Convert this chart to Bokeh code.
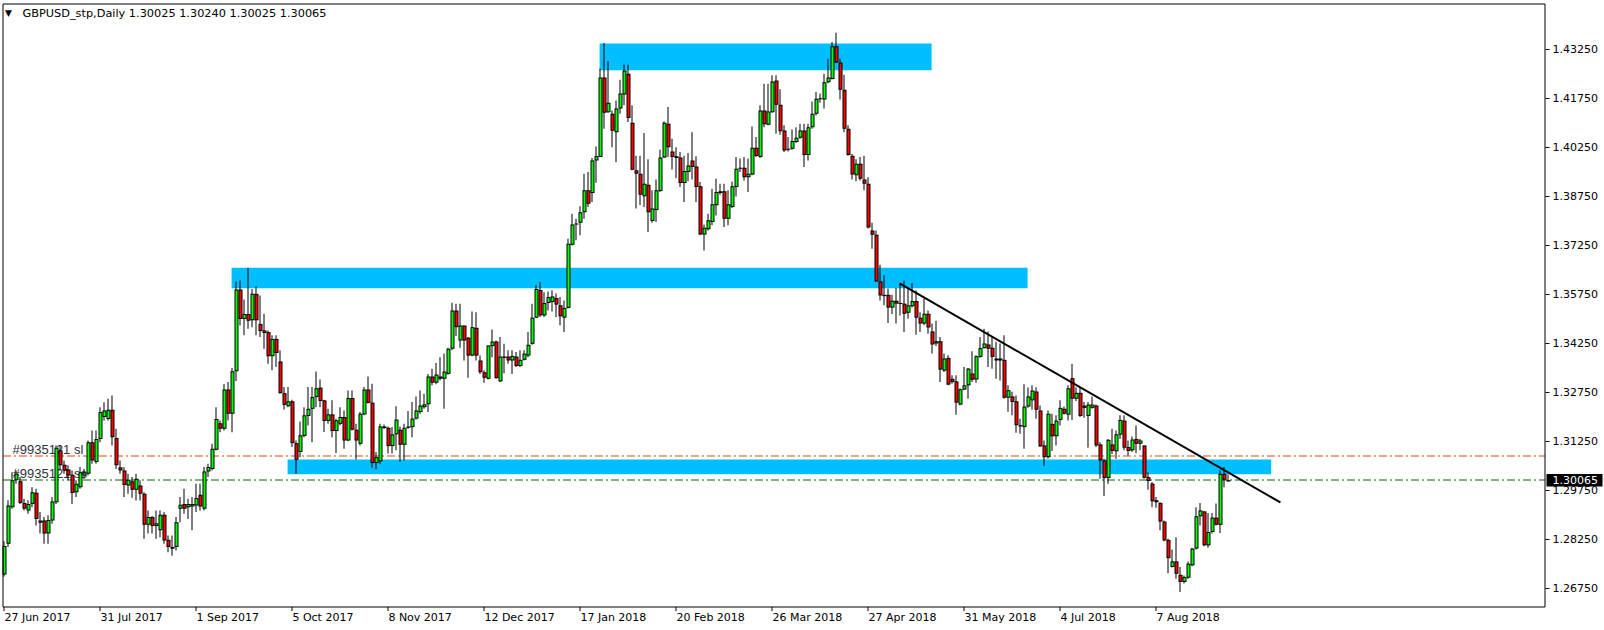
from bokeh.plotting import figure
from bokeh.models import Range1d
from bokeh.core.properties import value
from bokeh.embed import file_html
from bokeh.resources import INLINE

# ---------------- data ----------------
symbol = "GBPUSD_stp"
timeframe = "Daily"

opens = [
    1.2718, 1.2812, 1.2924, 1.3006, 1.3003, 1.2937, 1.2914, 1.2934, 1.2968, 1.2876,
    1.2883, 1.2843, 1.2883, 1.2939, 1.3098, 1.3054, 1.3039, 1.3023, 1.2970, 1.2985,
    1.3021, 1.3026, 1.3123, 1.3062, 1.3133, 1.3200, 1.3194, 1.3222, 1.3136, 1.3046,
    1.3036, 1.2990, 1.3003, 1.2977, 1.2990, 1.2965, 1.2870, 1.2894, 1.2866, 1.2853,
    1.2901, 1.2824, 1.2802, 1.2802, 1.2919, 1.2934, 1.2924, 1.2926, 1.2929, 1.2962,
    1.2919, 1.3033, 1.3041, 1.3100, 1.3181, 1.3164, 1.3284, 1.3210, 1.3340, 1.3590,
    1.3500, 1.3515, 1.3496, 1.3577, 1.3485, 1.3465, 1.3460, 1.3386, 1.3439, 1.3370,
    1.3273, 1.3233, 1.3248, 1.3120, 1.3093, 1.3142, 1.3203, 1.3225, 1.3261, 1.3290,
    1.3251, 1.3188, 1.3208, 1.3157, 1.3179, 1.3200, 1.3128, 1.3258, 1.3161, 1.3118,
    1.3208, 1.3284, 1.3244, 1.3059, 1.3064, 1.3166, 1.3167, 1.3111, 1.3147, 1.3161,
    1.3115, 1.3167, 1.3169, 1.3195, 1.3215, 1.3230, 1.3239, 1.3324, 1.3305, 1.3324,
    1.3317, 1.3332, 1.3409, 1.3526, 1.3434, 1.3480, 1.3443, 1.3388, 1.3473, 1.3373,
    1.3337, 1.3317, 1.3417, 1.3431, 1.3309, 1.3385, 1.3385, 1.3373, 1.3385, 1.3356,
    1.3375, 1.3388, 1.3424, 1.3504, 1.3589, 1.3511, 1.3549, 1.3552, 1.3564, 1.3542,
    1.3504, 1.3534, 1.3727, 1.3789, 1.3795, 1.3827, 1.3894, 1.3886, 1.3985, 1.3996,
    1.4239, 1.4133, 1.4128, 1.4072, 1.4144, 1.4187, 1.4251, 1.4101, 1.3955, 1.3945,
    1.3876, 1.3911, 1.3800, 1.3834, 1.3892, 1.3994, 1.4098, 1.4013, 1.3998, 1.3994,
    1.3916, 1.3950, 1.3985, 1.3967, 1.3906, 1.3759, 1.3775, 1.3797, 1.3848, 1.3886,
    1.3891, 1.3807, 1.3843, 1.3904, 1.3960, 1.3963, 1.3934, 1.3942, 1.4024, 1.3996,
    1.4138, 1.4095, 1.4133, 1.4230, 1.4156, 1.4077, 1.4021, 1.4021, 1.4042, 1.4055,
    1.4077, 1.4002, 1.4087, 1.4128, 1.4173, 1.4172, 1.4225, 1.4235, 1.4335, 1.4285,
    1.4202, 1.4082, 1.4000, 1.3940, 1.3975, 1.3927, 1.3914, 1.3771, 1.3758, 1.3615,
    1.3574, 1.3574, 1.3535, 1.3556, 1.3547, 1.3547, 1.3519, 1.3539, 1.3555, 1.3504,
    1.3486, 1.3516, 1.3462, 1.3425, 1.3432, 1.3342, 1.3381, 1.3317, 1.3309, 1.3238,
    1.3284, 1.3297, 1.3333, 1.3315, 1.3384, 1.3411, 1.3422, 1.3412, 1.3379, 1.3379,
    1.3375, 1.3259, 1.3263, 1.3248, 1.3175, 1.3169, 1.3232, 1.3251, 1.3278, 1.3220,
    1.3113, 1.3077, 1.3179, 1.3141, 1.3191, 1.3225, 1.3207, 1.3319, 1.3256, 1.3274,
    1.3235, 1.3203, 1.3228, 1.3235, 1.3116, 1.3067, 1.3013, 1.3116, 1.3095, 1.3146,
    1.3189, 1.3108, 1.3098, 1.3133, 1.3118, 1.3113, 1.3016, 1.2996, 1.2945, 1.2937,
    1.2880, 1.2824, 1.2741, 1.2758, 1.2717, 1.2695, 1.2708, 1.2746, 1.2797, 1.2896,
    1.2911, 1.2807, 1.2848, 1.2892, 1.2870, 1.3026, 1.30025,
]

highs = [
    1.2820, 1.2945, 1.3031, 1.3036, 1.3016, 1.2950, 1.2945, 1.2985, 1.2980, 1.2909,
    1.2894, 1.2899, 1.2955, 1.3113, 1.3113, 1.3067, 1.3052, 1.3036, 1.3006, 1.3047,
    1.3041, 1.3128, 1.3159, 1.3159, 1.3230, 1.3245, 1.3256, 1.3266, 1.3164, 1.3067,
    1.3046, 1.3026, 1.3016, 1.3026, 1.3006, 1.2970, 1.2914, 1.2897, 1.2914, 1.2914,
    1.2909, 1.2837, 1.2837, 1.2894, 1.2955, 1.2980, 1.2950, 1.2955, 1.2996, 1.2996,
    1.3047, 1.3057, 1.3118, 1.3230, 1.3189, 1.3301, 1.3307, 1.3350, 1.3615, 1.3618,
    1.3560, 1.3657, 1.3592, 1.3600, 1.3572, 1.3516, 1.3465, 1.3450, 1.3450, 1.3404,
    1.3292, 1.3292, 1.3253, 1.3128, 1.3186, 1.3230, 1.3292, 1.3292, 1.3339, 1.3315,
    1.3253, 1.3225, 1.3251, 1.3195, 1.3230, 1.3220, 1.3281, 1.3281, 1.3179, 1.3215,
    1.3292, 1.3324, 1.3302, 1.3093, 1.3179, 1.3177, 1.3171, 1.3169, 1.3233, 1.3171,
    1.3179, 1.3218, 1.3246, 1.3263, 1.3281, 1.3271, 1.3332, 1.3348, 1.3365, 1.3383,
    1.3394, 1.3412, 1.3550, 1.3547, 1.3547, 1.3480, 1.3445, 1.3523, 1.3521, 1.3388,
    1.3343, 1.3419, 1.3468, 1.3434, 1.3445, 1.3424, 1.3404, 1.3404, 1.3399, 1.3404,
    1.3404, 1.3460, 1.3547, 1.3603, 1.3613, 1.3582, 1.3584, 1.3588, 1.3578, 1.3567,
    1.3557, 1.3746, 1.3822, 1.3807, 1.3845, 1.3945, 1.3950, 1.3993, 1.4028, 1.4266,
    1.4345, 1.4289, 1.4138, 1.4169, 1.4232, 1.4279, 1.4278, 1.4154, 1.4000, 1.4000,
    1.4069, 1.3989, 1.3894, 1.3927, 1.4019, 1.4105, 1.4149, 1.4052, 1.4026, 1.4011,
    1.4000, 1.4008, 1.4072, 1.3998, 1.3919, 1.3789, 1.3822, 1.3899, 1.3929, 1.3914,
    1.3914, 1.3894, 1.3921, 1.3996, 1.3991, 1.3996, 1.3991, 1.4089, 1.4057, 1.4154,
    1.4220, 1.4220, 1.4246, 1.4246, 1.4203, 1.4093, 1.4057, 1.4080, 1.4087, 1.4098,
    1.4098, 1.4098, 1.4166, 1.4195, 1.4190, 1.4251, 1.4297, 1.4348, 1.4376, 1.4297,
    1.4248, 1.4093, 1.4005, 1.3989, 1.3996, 1.4000, 1.3934, 1.3795, 1.3771, 1.3666,
    1.3634, 1.3593, 1.3574, 1.3595, 1.3608, 1.3618, 1.3595, 1.3610, 1.3588, 1.3521,
    1.3562, 1.3526, 1.3486, 1.3495, 1.3445, 1.3394, 1.3389, 1.3328, 1.3328, 1.3287,
    1.3353, 1.3350, 1.3401, 1.3389, 1.3445, 1.3470, 1.3462, 1.3445, 1.3430, 1.3425,
    1.3450, 1.3297, 1.3277, 1.3266, 1.3195, 1.3300, 1.3290, 1.3297, 1.3291, 1.3235,
    1.3128, 1.3220, 1.3210, 1.3205, 1.3251, 1.3232, 1.3297, 1.3363, 1.3291, 1.3291,
    1.3246, 1.3246, 1.3263, 1.3238, 1.3123, 1.3072, 1.3133, 1.3164, 1.3159, 1.3205,
    1.3205, 1.3128, 1.3140, 1.3174, 1.3133, 1.3113, 1.3031, 1.3001, 1.2955, 1.2939,
    1.2883, 1.2827, 1.2794, 1.2832, 1.2741, 1.2715, 1.2758, 1.2800, 1.2924, 1.2937,
    1.2912, 1.2906, 1.2906, 1.2935, 1.3036, 1.3047, 1.30240,
]

lows = [
    1.2712, 1.2802, 1.2919, 1.2996, 1.2934, 1.2914, 1.2904, 1.2924, 1.2868, 1.2843,
    1.2812, 1.2812, 1.2873, 1.2934, 1.3036, 1.3026, 1.3006, 1.2934, 1.2955, 1.2980,
    1.3011, 1.3021, 1.3057, 1.3057, 1.3123, 1.3189, 1.3189, 1.3113, 1.3041, 1.3026,
    1.2955, 1.2965, 1.2953, 1.2944, 1.2944, 1.2827, 1.2843, 1.2843, 1.2827, 1.2832,
    1.2812, 1.2786, 1.2775, 1.2791, 1.2878, 1.2904, 1.2888, 1.2853, 1.2909, 1.2914,
    1.2914, 1.3016, 1.3036, 1.3098, 1.3153, 1.3159, 1.3189, 1.3153, 1.3310, 1.3480,
    1.3450, 1.3470, 1.3475, 1.3450, 1.3445, 1.3409, 1.3363, 1.3343, 1.3353, 1.3271,
    1.3223, 1.3230, 1.3108, 1.3026, 1.3077, 1.3138, 1.3174, 1.3123, 1.3230, 1.3230,
    1.3154, 1.3179, 1.3138, 1.3090, 1.3174, 1.3103, 1.3126, 1.3159, 1.3070, 1.3113,
    1.3205, 1.3241, 1.3045, 1.3040, 1.3057, 1.3164, 1.3088, 1.3088, 1.3098, 1.3062,
    1.3067, 1.3164, 1.3138, 1.3192, 1.3210, 1.3225, 1.3215, 1.3297, 1.3300, 1.3312,
    1.3225, 1.3329, 1.3404, 1.3448, 1.3412, 1.3373, 1.3320, 1.3386, 1.3373, 1.3332,
    1.3305, 1.3315, 1.3383, 1.3317, 1.3307, 1.3334, 1.3363, 1.3332, 1.3353, 1.3353,
    1.3373, 1.3383, 1.3421, 1.3504, 1.3506, 1.3506, 1.3526, 1.3523, 1.3506, 1.3481,
    1.3460, 1.3532, 1.3725, 1.3741, 1.3756, 1.3807, 1.3843, 1.3858, 1.3917, 1.3996,
    1.4082, 1.4131, 1.4026, 1.3980, 1.4128, 1.4154, 1.4103, 1.3955, 1.3838, 1.3849,
    1.3843, 1.3766, 1.3795, 1.3797, 1.3889, 1.3993, 1.3996, 1.3958, 1.3931, 1.3904,
    1.3858, 1.3922, 1.3927, 1.3858, 1.3756, 1.3710, 1.3771, 1.3787, 1.3817, 1.3880,
    1.3782, 1.3787, 1.3840, 1.3875, 1.3950, 1.3924, 1.3889, 1.3940, 1.3996, 1.3993,
    1.4087, 1.4093, 1.4131, 1.4067, 1.4064, 1.4011, 1.4013, 1.4018, 1.4039, 1.4052,
    1.3965, 1.3985, 1.4082, 1.4123, 1.4162, 1.4144, 1.4222, 1.4233, 1.4284, 1.4172,
    1.4072, 1.4000, 1.3927, 1.3922, 1.3924, 1.3894, 1.3777, 1.3715, 1.3613, 1.3557,
    1.3542, 1.3488, 1.3515, 1.3486, 1.3511, 1.3460, 1.3501, 1.3535, 1.3452, 1.3460,
    1.3481, 1.3455, 1.3394, 1.3417, 1.3307, 1.3338, 1.3297, 1.3302, 1.3207, 1.3236,
    1.3282, 1.3256, 1.3307, 1.3305, 1.3381, 1.3409, 1.3353, 1.3348, 1.3317, 1.3312,
    1.3256, 1.3216, 1.3205, 1.3152, 1.3149, 1.3103, 1.3228, 1.3222, 1.3195, 1.3108,
    1.3050, 1.3072, 1.3096, 1.3113, 1.3174, 1.3208, 1.3189, 1.3191, 1.3249, 1.3200,
    1.3198, 1.3106, 1.3225, 1.3108, 1.3011, 1.2958, 1.2996, 1.3087, 1.3072, 1.3133,
    1.3098, 1.3082, 1.3093, 1.3089, 1.3098, 1.3011, 1.2977, 1.2924, 1.2922, 1.2853,
    1.2820, 1.2722, 1.2739, 1.2705, 1.2664, 1.2690, 1.2705, 1.2743, 1.2794, 1.2868,
    1.2804, 1.2800, 1.2843, 1.2868, 1.2845, 1.2985, 1.30025,
]

closes = [
    1.2805, 1.2929, 1.3006, 1.3026, 1.2937, 1.2919, 1.2934, 1.2970, 1.2888, 1.2883,
    1.2843, 1.2885, 1.2941, 1.3106, 1.3052, 1.3036, 1.3021, 1.2967, 1.2996, 1.3031,
    1.3031, 1.3123, 1.3067, 1.3133, 1.3215, 1.3220, 1.3222, 1.3138, 1.3052, 1.3036,
    1.2992, 1.3008, 1.2977, 1.3011, 1.2965, 1.2870, 1.2894, 1.2866, 1.2875, 1.2901,
    1.2822, 1.2802, 1.2797, 1.2878, 1.2931, 1.2919, 1.2934, 1.2934, 1.2952, 1.2926,
    1.3033, 1.3047, 1.3103, 1.3194, 1.3164, 1.3284, 1.3210, 1.3340, 1.3590, 1.3500,
    1.3515, 1.3495, 1.3577, 1.3496, 1.3463, 1.3457, 1.3386, 1.3439, 1.3396, 1.3273,
    1.3237, 1.3248, 1.3120, 1.3069, 1.3144, 1.3205, 1.3225, 1.3261, 1.3288, 1.3249,
    1.3188, 1.3208, 1.3157, 1.3190, 1.3200, 1.3128, 1.3258, 1.3161, 1.3128, 1.3210,
    1.3284, 1.3243, 1.3059, 1.3077, 1.3171, 1.3171, 1.3111, 1.3147, 1.3192, 1.3115,
    1.3167, 1.3171, 1.3195, 1.3220, 1.3235, 1.3239, 1.3324, 1.3305, 1.3330, 1.3317,
    1.3339, 1.3409, 1.3526, 1.3475, 1.3480, 1.3434, 1.3388, 1.3475, 1.3388, 1.3337,
    1.3320, 1.3419, 1.3431, 1.3319, 1.3385, 1.3381, 1.3373, 1.3387, 1.3356, 1.3375,
    1.3394, 1.3421, 1.3504, 1.3592, 1.3511, 1.3549, 1.3567, 1.3569, 1.3544, 1.3508,
    1.3534, 1.3730, 1.3789, 1.3792, 1.3827, 1.3894, 1.3853, 1.3985, 1.3998, 1.4239,
    1.4131, 1.4162, 1.4076, 1.4144, 1.4190, 1.4261, 1.4115, 1.3957, 1.3945, 1.3880,
    1.3914, 1.3827, 1.3838, 1.3894, 1.3994, 1.4101, 1.4026, 1.3996, 1.3993, 1.3916,
    1.3953, 1.3970, 1.3965, 1.3904, 1.3759, 1.3779, 1.3802, 1.3851, 1.3889, 1.3891,
    1.3807, 1.3851, 1.3906, 1.3960, 1.3963, 1.3934, 1.3945, 1.4024, 1.3999, 1.4138,
    1.4096, 1.4135, 1.4227, 1.4156, 1.4075, 1.4016, 1.4018, 1.4045, 1.4055, 1.4077,
    1.4002, 1.4087, 1.4128, 1.4174, 1.4176, 1.4225, 1.4239, 1.4335, 1.4285, 1.4202,
    1.4082, 1.4002, 1.3942, 1.3975, 1.3929, 1.3914, 1.3780, 1.3758, 1.3615, 1.3572,
    1.3570, 1.3535, 1.3556, 1.3547, 1.3546, 1.3516, 1.3542, 1.3555, 1.3504, 1.3486,
    1.3516, 1.3474, 1.3422, 1.3432, 1.3345, 1.3379, 1.3299, 1.3307, 1.3244, 1.3285,
    1.3297, 1.3348, 1.3314, 1.3386, 1.3411, 1.3425, 1.3409, 1.3384, 1.3373, 1.3373,
    1.3259, 1.3282, 1.3246, 1.3175, 1.3171, 1.3232, 1.3263, 1.3281, 1.3222, 1.3110,
    1.3077, 1.3210, 1.3141, 1.3189, 1.3228, 1.3210, 1.3288, 1.3256, 1.3274, 1.3203,
    1.3228, 1.3238, 1.3238, 1.3113, 1.3067, 1.3013, 1.3130, 1.3096, 1.3147, 1.3191,
    1.3106, 1.3096, 1.3131, 1.3118, 1.3128, 1.3014, 1.3004, 1.2942, 1.2939, 1.2880,
    1.2822, 1.2768, 1.2758, 1.2720, 1.2695, 1.2710, 1.2751, 1.2797, 1.2896, 1.2914,
    1.2807, 1.2848, 1.2892, 1.2870, 1.3026, 1.3008, 1.30065,
]

price_ticks = [1.26750, 1.28250, 1.29750, 1.31250, 1.32750, 1.34250,
               1.35750, 1.37250, 1.38750, 1.40250, 1.41750, 1.43250]
date_ticks = [0, 24, 48, 72, 96, 120, 144, 168, 192, 216, 240, 264, 288]
date_labels = ["27 Jun 2017", "31 Jul 2017", "1 Sep 2017", "5 Oct 2017",
               "8 Nov 2017", "12 Dec 2017", "17 Jan 2018", "20 Feb 2018",
               "26 Mar 2018", "27 Apr 2018", "31 May 2018", "4 Jul 2018",
               "7 Aug 2018"]

# drawn objects (bar index / price anchors)
zone_left = [148.9, 56.9, 70.9]
zone_right = [231.9, 255.9, 316.8]
zone_top = [1.43434, 1.36567, 1.30699]
zone_bottom = [1.42616, 1.35943, 1.30249]

trend_x = [223.9, 319.1]
trend_y = [1.36087, 1.29383]

sl_price = 1.30806
entry_price = 1.30071
order_labels = ["#9935121 sl", "#9935121 ss"]

# ---------------- layout: the frame covers the whole canvas ----------------
BULL = "#00FF00"
BEAR = "#FF0000"
ZONE = "#00BFFF"
FONT = value("DejaVu Sans")
W, H = 1604, 630
BAR_PX = 4.0            # screen pixels per bar
K = 0.00030612          # price per screen pixel
X0 = -3.5 / BAR_PX      # bar units at the canvas left edge
Y_TOP = 1.447498        # price at the canvas top edge


def px_x(px):
    return X0 + px / BAR_PX


def px_y(py):
    return Y_TOP - py * K


xr = Range1d(px_x(0), px_x(W))
yr = Range1d(px_y(H), px_y(0))

p = figure(width=W, height=H, x_range=xr, y_range=yr, output_backend="svg",
           toolbar_location=None, x_axis_location=None, y_axis_location=None,
           min_border=0, min_border_left=0, min_border_right=0,
           min_border_top=0, min_border_bottom=0,
           background_fill_color="white", border_fill_color="white",
           outline_line_color=None)
p.grid.visible = False

FL, FR, FT, FB = px_x(2.5), px_x(1544.5), px_y(3.5), px_y(606.5)

# support / resistance zones
p.quad(left=zone_left, right=zone_right, top=zone_top, bottom=zone_bottom,
       fill_color=ZONE, line_color=None)

# order lines and their labels (under the candles)
p.segment(x0=[FL, FL], y0=[sl_price, entry_price], x1=[FR, FR],
          y1=[sl_price, entry_price], line_color=["#E8400C", "#006E00"],
          line_width=1, line_dash="8 3 2 3")
p.text(x=[px_x(12), px_x(12)], y=[sl_price + 7 * K, entry_price + 7 * K],
       text=order_labels, text_align="left", text_baseline="middle",
       text_font=value("Liberation Sans"), text_font_size="13px",
       text_color="#303040")

# candles: 1px wick, black body with 1px outline, coloured fill (pixel-aligned)
n = len(closes)
xs = list(range(n))
bx = [i + 0.5 / BAR_PX for i in xs]
body_lo = [min(o, c) for o, c in zip(opens, closes)]
body_hi = [max(max(o, c), min(o, c) + K) for o, c in zip(opens, closes)]
p.vbar(x=xs, width=1 / BAR_PX, top=highs, bottom=lows,
       fill_color="black", line_color=None)
p.vbar(x=bx, width=4 / BAR_PX, top=body_hi, bottom=body_lo,
       fill_color="black", line_color=None)
core = [(bx[i], lo + K, hi - K, BULL if closes[i] >= opens[i] else BEAR)
        for i, (lo, hi) in enumerate(zip(body_lo, body_hi)) if hi - lo > 2.2 * K]
p.vbar(x=[c[0] for c in core], width=2 / BAR_PX, top=[c[2] for c in core],
       bottom=[c[1] for c in core], fill_color=[c[3] for c in core],
       line_color=None)

# trend line
p.line(trend_x, trend_y, line_color="black", line_width=2)

# chart frame
p.line([FL, FR, FR, FL, FL], [FT, FT, FB, FB, FT], line_color="black", line_width=1)

# price scale (right)
p.segment(x0=[px_x(1545)] * len(price_ticks), y0=price_ticks,
          x1=[px_x(1549)] * len(price_ticks), y1=price_ticks,
          line_color="black", line_width=1)
p.text(x=[px_x(1552)] * len(price_ticks), y=price_ticks,
       text=[f"{t:.5f}" for t in price_ticks], text_align="left",
       text_baseline="middle", text_font=FONT, text_font_size="11px",
       text_color="black")

# time scale (bottom)
p.segment(x0=date_ticks, y0=[FB] * len(date_ticks), x1=date_ticks,
          y1=[px_y(610.5)] * len(date_ticks), line_color="black", line_width=1)
p.text(x=[t + 0.1 for t in date_ticks], y=[px_y(617)] * len(date_ticks),
       text=date_labels, text_align="left", text_baseline="middle",
       text_font=FONT, text_font_size="11px", text_color="black")

# current price marker on the price scale
p.quad(left=[px_x(1546)], right=[px_x(1602)], top=[closes[-1] + 6.25 * K],
       bottom=[closes[-1] - 6.25 * K], fill_color="black", line_color=None)
p.text(x=[px_x(1552)], y=[closes[-1]], text=[f"{closes[-1]:.5f}"],
       text_align="left", text_baseline="middle", text_font=FONT,
       text_font_size="11px", text_color="white")

# chart title
title_text = (f"{symbol},{timeframe}  {opens[-1]:.5f} {highs[-1]:.5f} "
              f"{lows[-1]:.5f} {closes[-1]:.5f}")
p.text(x=[px_x(4.5)], y=[px_y(12.5)], text=["\u25BC"], text_align="left",
       text_baseline="middle", text_font=FONT, text_font_size="9px",
       text_color="black")
p.text(x=[px_x(22)], y=[px_y(12.5)], text=[title_text], text_align="left",
       text_baseline="middle", text_font=FONT, text_font_size="11.3px",
       text_color="black")

open("out.html", "w").write(file_html(p, INLINE))
